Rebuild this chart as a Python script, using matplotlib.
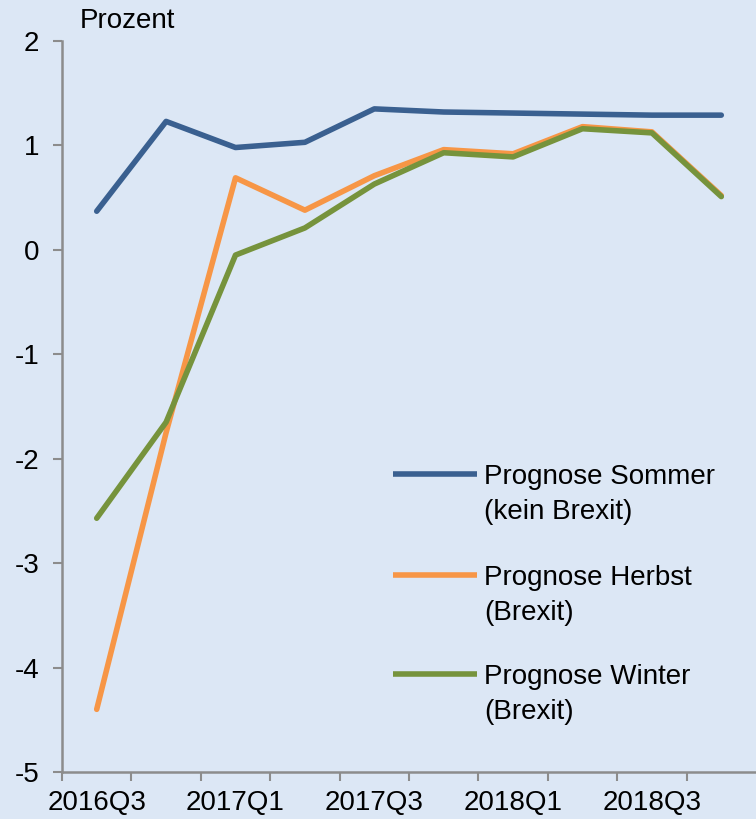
import matplotlib
matplotlib.use("Agg")
import matplotlib.pyplot as plt
import numpy as np

quarters = ["2016Q3", "2016Q4", "2017Q1", "2017Q2", "2017Q3",
            "2017Q4", "2018Q1", "2018Q2", "2018Q3", "2018Q4"]
sommer = [0.37, 1.23, 0.98, 1.03, 1.35, 1.32, 1.31, 1.30, 1.29, 1.29]
herbst = [-4.40, -1.75, 0.69, 0.38, 0.71, 0.96, 0.92, 1.18, 1.13, 0.52]
winter = [-2.57, -1.65, -0.05, 0.21, 0.63, 0.93, 0.89, 1.16, 1.12, 0.51]

labels = ["Prognose Sommer\n(kein Brexit)", "Prognose Herbst\n(Brexit)", "Prognose Winter\n(Brexit)"]
colors = ["#3A6090", "#F79646", "#76933C"]

plt.rcParams["font.family"] = ["Liberation Sans", "DejaVu Sans"]
plt.rcParams["axes.unicode_minus"] = False

bg = "#DCE7F5"
grey = "#8C8C8C"

fig = plt.figure(figsize=(7.56, 8.19), dpi=100, facecolor=bg)
ax = fig.add_axes([62/756, 47/819, 694/756, 731/819], facecolor=bg)

x = np.arange(len(quarters))
for series, c in zip([sommer, herbst, winter], colors):
    ax.plot(x, series, color=c, lw=4.0, solid_capstyle="round", solid_joinstyle="round")

ax.set_xlim(-0.5, len(quarters) - 0.5)
ax.set_ylim(-5, 2)
ax.set_yticks(range(-5, 3))
ax.set_xticks(x[::2])
ax.set_xticklabels(quarters[::2])
ax.set_xticks(np.arange(-0.5, len(quarters) - 1, 1), minor=True)

for s in ["top", "right"]:
    ax.spines[s].set_visible(False)
for s in ["left", "bottom"]:
    ax.spines[s].set_color(grey)
    ax.spines[s].set_linewidth(1.8)

ax.tick_params(axis="y", direction="out", length=6.5, width=1.5, color=grey,
               labelsize=20, pad=10)
ax.tick_params(axis="x", which="major", length=0, labelsize=20, pad=13)
ax.tick_params(axis="x", which="minor", direction="out", length=6.5, width=1.5, color=grey)

fig.text(80/756, 1 - 21/819, "Prozent", fontsize=20, va="center", ha="left")

# legend drawn by hand so the line sits at the first text row
leg_y = [0.408, 0.269, 0.134]
for lab, c, yy in zip(labels, colors, leg_y):
    ax.plot([0.477, 0.598], [yy, yy], transform=ax.transAxes, color=c, lw=4.0,
            solid_capstyle="butt", clip_on=False)
    ax.text(0.608, yy + 0.014, lab, transform=ax.transAxes, fontsize=20,
            va="top", ha="left", linespacing=1.45)

fig.savefig("out.png", dpi=100, facecolor=bg)
